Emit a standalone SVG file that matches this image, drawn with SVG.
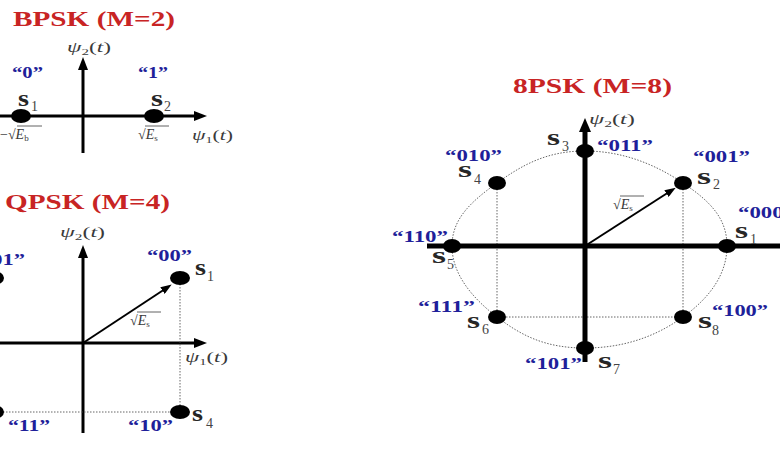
<svg xmlns="http://www.w3.org/2000/svg" width="780" height="470" viewBox="0 0 780 470">
<style>
.title{font-family:"Liberation Serif",serif;font-weight:bold;fill:#c82424;font-size:21px}
.code{font-family:"Liberation Serif",serif;font-weight:bold;fill:#1f1f9a;font-size:16px}
.sn{font-family:"Liberation Serif",serif;font-weight:bold;fill:#262626;font-size:23px}
.sb{font-family:"Liberation Serif",serif;fill:#444;font-size:14px}
.math{font-family:"Liberation Serif",serif;fill:#3a3a3a;font-size:14px}
.axis{stroke:#000;stroke-width:3;fill:none}
.axis8{stroke:#000;stroke-width:5;fill:none}
.vec{stroke:#000;stroke-width:2;fill:none}
.guide{stroke:#666;stroke-width:1;stroke-dasharray:1.5 1.5;fill:none}
.ov{stroke:#3a3a3a;stroke-width:0.8}
.dot{fill:#000}
</style>
<defs>
<marker id="ah" markerUnits="userSpaceOnUse" markerWidth="13" markerHeight="10" refX="4" refY="5" orient="auto"><path d="M0,0 L13,5 L0,10 z" fill="#000"/></marker>
<marker id="ah8" markerUnits="userSpaceOnUse" markerWidth="14" markerHeight="12" refX="4" refY="6" orient="auto"><path d="M0,0 L14,6 L0,12 z" fill="#000"/></marker>
<marker id="av" markerUnits="userSpaceOnUse" markerWidth="11" markerHeight="8" refX="3" refY="4" orient="auto"><path d="M0,0 L11,4 L0,8 z" fill="#000"/></marker>
</defs>

<g id="titles">
<text class="title" x="13" y="26" textLength="162" lengthAdjust="spacingAndGlyphs">BPSK (M=2)</text>
<text class="title" x="5" y="209" textLength="165" lengthAdjust="spacingAndGlyphs">QPSK (M=4)</text>
<text class="title" x="513" y="93" textLength="159" lengthAdjust="spacingAndGlyphs">8PSK (M=8)</text>
</g>

<g id="connectors">
<line class="axis" x1="83" y1="153" x2="83" y2="66" marker-end="url(#ah)"/>
<line class="axis" x1="0" y1="116" x2="198" y2="116" marker-end="url(#ah)"/>
<line class="axis" x1="83" y1="433" x2="83" y2="254" marker-end="url(#ah)"/>
<line class="axis" x1="0" y1="343" x2="198" y2="343" marker-end="url(#ah)"/>
<line class="guide" x1="180" y1="278" x2="180" y2="412"/>
<line class="guide" x1="0" y1="412" x2="180" y2="412"/>
<line class="vec" x1="83" y1="343" x2="165" y2="289" marker-end="url(#av)"/>
<path class="guide" d="M727,246 C727,272.8 711.4,296.6 683,317 C654.6,337.4 622.2,348 585,348 C547.8,348 523.6,337.4 497,317 C470.4,296.6 452,272.8 452,246 C452,219.2 470.4,202 497,183 C523.6,164 547.8,151 585,151 C622.2,151 654.6,164 683,183 C711.4,202 727,219.2 727,246 Z"/>
<line class="guide" x1="497" y1="183" x2="497" y2="317"/>
<line class="guide" x1="683" y1="183" x2="683" y2="317"/>
<line class="guide" x1="497" y1="317" x2="683" y2="317"/>
<line class="axis8" x1="585" y1="362" x2="585" y2="128" marker-end="url(#ah8)"/>
<line class="axis8" x1="427" y1="246" x2="780" y2="246"/>
<line class="vec" x1="585" y1="246" x2="669" y2="192" marker-end="url(#av)"/>
</g>

<g id="bpsk-labels">
<text class="math" x="67" y="52" textLength="44" lengthAdjust="spacingAndGlyphs"><tspan font-style="italic">ψ</tspan><tspan font-size="9" dy="3">2</tspan><tspan dy="-3">(</tspan><tspan font-style="italic">t</tspan>)</text>
<text class="math" x="192" y="140" textLength="41" lengthAdjust="spacingAndGlyphs"><tspan font-style="italic">ψ</tspan><tspan font-size="9" dy="3">1</tspan><tspan dy="-3">(</tspan><tspan font-style="italic">t</tspan>)</text>
<text class="math" x="0" y="139">−√<tspan font-style="italic">E</tspan><tspan font-size="9" dy="2">b</tspan></text>
<line class="ov" x1="17" y1="126" x2="42" y2="126"/>
<text class="math" x="138" y="139">√<tspan font-style="italic">E</tspan><tspan font-size="9" dy="2">s</tspan></text>
<line class="ov" x1="145" y1="126" x2="169" y2="126"/>
</g>

<g id="bpsk-s1">
<ellipse class="dot" cx="21" cy="116" rx="10" ry="7"/>
<text class="code" x="12" y="78" textLength="31" lengthAdjust="spacingAndGlyphs">“0”</text>
<text class="sn" x="18" y="106" textLength="11" lengthAdjust="spacingAndGlyphs">s</text>
<text class="sb" x="31" y="111">1</text>
</g>
<g id="bpsk-s2">
<ellipse class="dot" cx="154" cy="116" rx="10" ry="7"/>
<text class="code" x="138" y="78" textLength="30" lengthAdjust="spacingAndGlyphs">“1”</text>
<text class="sn" x="151" y="106" textLength="12" lengthAdjust="spacingAndGlyphs">s</text>
<text class="sb" x="164" y="111">2</text>
</g>

<g id="qpsk-labels">
<text class="math" x="60" y="237" textLength="45" lengthAdjust="spacingAndGlyphs"><tspan font-style="italic">ψ</tspan><tspan font-size="9" dy="3">2</tspan><tspan dy="-3">(</tspan><tspan font-style="italic">t</tspan>)</text>
<text class="math" x="185" y="362" textLength="43" lengthAdjust="spacingAndGlyphs"><tspan font-style="italic">ψ</tspan><tspan font-size="9" dy="3">1</tspan><tspan dy="-3">(</tspan><tspan font-style="italic">t</tspan>)</text>
<text class="math" x="130" y="325">√<tspan font-style="italic">E</tspan><tspan font-size="9" dy="2">s</tspan></text>
<line class="ov" x1="137" y1="312" x2="161" y2="312"/>
</g>
<g id="qpsk-s1">
<ellipse class="dot" cx="180" cy="278" rx="10" ry="7"/>
<text class="code" x="147" y="261" textLength="45" lengthAdjust="spacingAndGlyphs">“00”</text>
<text class="sn" x="195" y="275" textLength="11" lengthAdjust="spacingAndGlyphs">s</text>
<text class="sb" x="207" y="281">1</text>
</g>
<g id="qpsk-s2">
<ellipse class="dot" cx="-6" cy="278" rx="10" ry="7"/>
<text class="code" x="-20" y="265" textLength="45" lengthAdjust="spacingAndGlyphs">“01”</text>
</g>
<g id="qpsk-s3">
<ellipse class="dot" cx="-6" cy="412" rx="10" ry="7"/>
<text class="code" x="8" y="431" textLength="42" lengthAdjust="spacingAndGlyphs">“11”</text>
</g>
<g id="qpsk-s4">
<ellipse class="dot" cx="180" cy="412" rx="10" ry="7"/>
<text class="code" x="128" y="431" textLength="45" lengthAdjust="spacingAndGlyphs">“10”</text>
<text class="sn" x="192" y="421" textLength="11" lengthAdjust="spacingAndGlyphs">s</text>
<text class="sb" x="206" y="428">4</text>
</g>

<g id="psk8-labels">
<text class="math" x="589" y="124" textLength="46" lengthAdjust="spacingAndGlyphs"><tspan font-style="italic">ψ</tspan><tspan font-size="9" dy="3">2</tspan><tspan dy="-3">(</tspan><tspan font-style="italic">t</tspan>)</text>
<text class="math" x="613" y="209">√<tspan font-style="italic">E</tspan><tspan font-size="9" dy="2">s</tspan></text>
<line class="ov" x1="620" y1="196" x2="644" y2="196"/>
</g>
<g id="psk8-s1">
<ellipse class="dot" cx="727" cy="246" rx="9" ry="7"/>
<text class="code" x="738" y="218" textLength="57" lengthAdjust="spacingAndGlyphs">“000”</text>
<text class="sn" x="735" y="238" textLength="13" lengthAdjust="spacingAndGlyphs">s</text>
<text class="sb" x="750" y="244">1</text>
</g>
<g id="psk8-s2">
<ellipse class="dot" cx="683" cy="183" rx="9" ry="7"/>
<text class="code" x="693" y="162" textLength="57" lengthAdjust="spacingAndGlyphs">“001”</text>
<text class="sn" x="697" y="184" textLength="14" lengthAdjust="spacingAndGlyphs">s</text>
<text class="sb" x="713" y="189">2</text>
</g>
<g id="psk8-s3">
<ellipse class="dot" cx="585" cy="151" rx="9" ry="7"/>
<text class="code" x="597" y="151" textLength="56" lengthAdjust="spacingAndGlyphs">“011”</text>
<text class="sn" x="547" y="145" textLength="13" lengthAdjust="spacingAndGlyphs">s</text>
<text class="sb" x="562" y="151">3</text>
</g>
<g id="psk8-s4">
<ellipse class="dot" cx="497" cy="183" rx="9" ry="7"/>
<text class="code" x="445" y="161" textLength="57" lengthAdjust="spacingAndGlyphs">“010”</text>
<text class="sn" x="458" y="177" textLength="14" lengthAdjust="spacingAndGlyphs">s</text>
<text class="sb" x="474" y="184">4</text>
</g>
<g id="psk8-s5">
<ellipse class="dot" cx="452" cy="246" rx="9" ry="7"/>
<text class="code" x="392" y="242" textLength="56" lengthAdjust="spacingAndGlyphs">“110”</text>
<text class="sn" x="432" y="263" textLength="14" lengthAdjust="spacingAndGlyphs">s</text>
<text class="sb" x="447" y="269">5</text>
</g>
<g id="psk8-s6">
<ellipse class="dot" cx="497" cy="317" rx="9" ry="7"/>
<text class="code" x="418" y="312" textLength="57" lengthAdjust="spacingAndGlyphs">“111”</text>
<text class="sn" x="467" y="328" textLength="13" lengthAdjust="spacingAndGlyphs">s</text>
<text class="sb" x="482" y="334">6</text>
</g>
<g id="psk8-s7">
<ellipse class="dot" cx="585" cy="348" rx="9" ry="7"/>
<text class="code" x="525" y="369" textLength="57" lengthAdjust="spacingAndGlyphs">“101”</text>
<text class="sn" x="598" y="368" textLength="14" lengthAdjust="spacingAndGlyphs">s</text>
<text class="sb" x="613" y="374">7</text>
</g>
<g id="psk8-s8">
<ellipse class="dot" cx="683" cy="317" rx="9" ry="7"/>
<text class="code" x="712" y="316" textLength="56" lengthAdjust="spacingAndGlyphs">“100”</text>
<text class="sn" x="698" y="328" textLength="14" lengthAdjust="spacingAndGlyphs">s</text>
<text class="sb" x="712" y="335">8</text>
</g>
</svg>
